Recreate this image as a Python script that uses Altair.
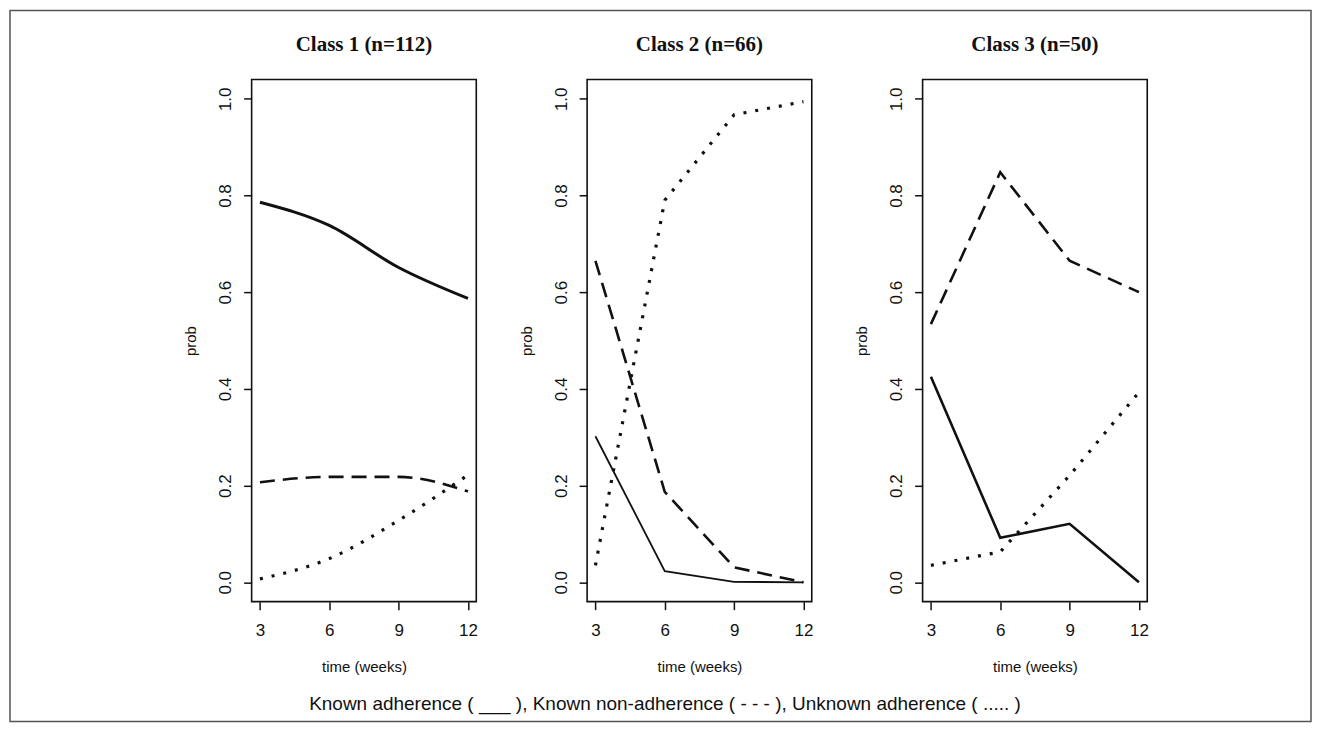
import altair as alt
import pandas as pd

# ---- data ----
times = [3, 6, 9, 12]
classes = ["Class 1 (n=112)", "Class 2 (n=66)", "Class 3 (n=50)"]
series = ["Known adherence", "Known non-adherence", "Unknown adherence"]

c1_known = [0.786, 0.738, 0.651, 0.587]
c1_non = [0.207, 0.218, 0.218, 0.188]
c1_unknown = [0.007, 0.049, 0.128, 0.222]

c2_known = [0.302, 0.023, 0.001, 0.0]
c2_non = [0.665, 0.187, 0.031, 0.0]
c2_unknown = [0.035, 0.790, 0.967, 0.994]

c3_known = [0.425, 0.092, 0.121, 0.0]
c3_non = [0.534, 0.848, 0.665, 0.600]
c3_unknown = [0.035, 0.063, 0.221, 0.393]

y_ticks = [0.0, 0.2, 0.4, 0.6, 0.8, 1.0]
caption = "Known adherence ( ___ ), Known non-adherence ( - - - ), Unknown adherence ( ..... )"

class_values = {
    classes[0]: [c1_known, c1_non, c1_unknown],
    classes[1]: [c2_known, c2_non, c2_unknown],
    classes[2]: [c3_known, c3_non, c3_unknown],
}

rows = []
for cls in classes:
    for s, vals in zip(series, class_values[cls]):
        for t, p in zip(times, vals):
            rows.append({"cls": cls, "series": s, "time": t, "prob": p})
df = pd.DataFrame(rows)

# ---- styles ----
INK = "#111111"
interp = {classes[0]: "monotone", classes[1]: "linear", classes[2]: "linear"}
solid_width = {classes[0]: 3.0, classes[1]: 1.8, classes[2]: 2.6}
PANEL_W, PANEL_H = 225, 523

x_enc = alt.X(
    "time:Q",
    scale=alt.Scale(domain=[2.64, 12.36], nice=False, zero=False),
    axis=alt.Axis(values=times, title="time (weeks)", labelPadding=13, titlePadding=21),
)
y_enc = alt.Y(
    "prob:Q",
    scale=alt.Scale(domain=[-0.04, 1.04], nice=False, zero=False),
    axis=alt.Axis(
        values=y_ticks,
        format=".1f",
        title="prob",
        labelAngle=-90,
        labelAlign="center",
        labelBaseline="bottom",
        labelPadding=9,
        titlePadding=18,
    ),
)


def panel(cls):
    base = alt.Chart(df).transform_filter(alt.datum.cls == cls)
    solid = base.transform_filter(alt.datum.series == series[0]).mark_line(
        interpolate=interp[cls], color=INK, strokeWidth=solid_width[cls]
    ).encode(x=x_enc, y=y_enc)
    dashed = base.transform_filter(alt.datum.series == series[1]).mark_line(
        interpolate=interp[cls], color=INK, strokeWidth=2.6, strokeDash=[15, 8]
    ).encode(x=x_enc, y=y_enc)
    dotted = base.transform_filter(alt.datum.series == series[2]).mark_line(
        interpolate=interp[cls], color=INK, strokeWidth=3.2, strokeDash=[3, 9]
    ).encode(x=x_enc, y=y_enc)
    return alt.layer(solid, dashed, dotted).properties(
        width=PANEL_W,
        height=PANEL_H,
        title=alt.TitleParams(
            text=cls,
            font="Liberation Serif",
            fontSize=21,
            fontWeight="bold",
            color=INK,
            anchor="middle",
            frame="group",
            offset=24,
        ),
        view=alt.ViewBackground(stroke=INK, strokeWidth=1.6),
    )


panels = alt.hconcat(*[panel(c) for c in classes], spacing=111, bounds="flush")

cap_df = pd.DataFrame({"caption": [caption]})
cap_text = alt.Chart(cap_df).mark_text(
    font="Liberation Sans", fontSize=19, color=INK, align="center", baseline="middle"
).encode(text="caption:N", x=alt.value(414), y=alt.value(10))
frame = alt.Chart(cap_df).mark_rect(
    filled=False, stroke="#555555", strokeWidth=1.5
).encode(x=alt.value(-242), x2=alt.value(1061), y=alt.value(-685), y2=alt.value(27))
cap_chart = alt.layer(frame, cap_text).properties(
    width=897, height=20, view=alt.ViewBackground(stroke="transparent")
)

chart = (
    alt.vconcat(panels, cap_chart, spacing=616, bounds="flush")
    .properties(padding=0, background="white")
    .configure_view(stroke="transparent")
    .configure_axis(
        domain=False,
        grid=False,
        tickColor=INK,
        tickWidth=1.5,
        tickSize=8,
        labelFont="Liberation Sans",
        labelFontSize=17,
        labelColor=INK,
        titleFont="Liberation Sans",
        titleFontSize=15,
        titleFontWeight="normal",
        titleColor=INK,
    )
)

chart.save("out.html", embed_options={"renderer": "svg", "actions": False})
